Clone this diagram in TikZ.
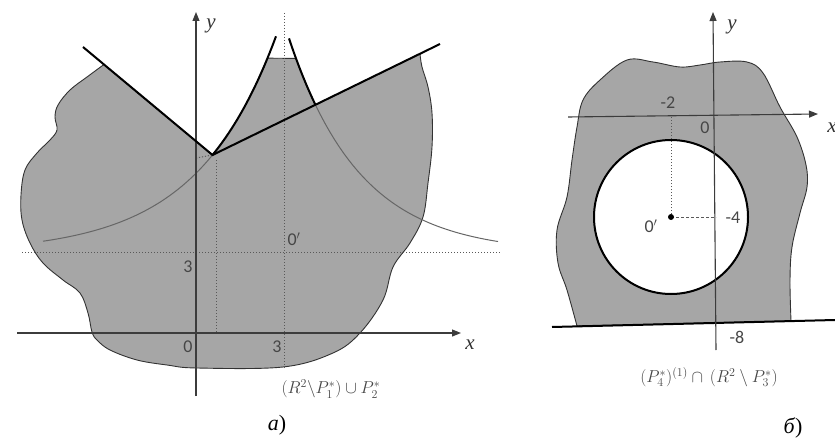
\documentclass[tikz,border=0pt]{standalone}
\usepackage{fontspec}
\setmainfont{Liberation Serif}
\newfontfamily\numfont{Carlito}
\usetikzlibrary{arrows.meta,calc}
\definecolor{fillgray}{RGB}{166,166,166}
\definecolor{axisgray}{RGB}{60,60,60}
\definecolor{textgray}{RGB}{70,70,70}
\definecolor{edgegray}{RGB}{50,50,50}
\begin{document}
\begin{tikzpicture}[x=1pt,y=-1pt,
  axis/.style={draw=axisgray, line width=1.1pt, -{Triangle[length=9pt,width=7pt]}},
  thickline/.style={draw=black, line width=2pt},
  thincurve/.style={draw=black!60, line width=1pt},
  guide/.style={draw=black!65, line width=1pt, dash pattern=on 1.2pt off 1.8pt},
  dguide/.style={draw=black!65, line width=1pt, dash pattern=on 3pt off 2pt},
  blob/.style={fill=fillgray, draw=edgegray, line width=0.9pt},
  num/.style={font=\numfont\fontsize{18}{18}\selectfont, text=textgray, inner sep=0pt},
  axlabel/.style={font=\itshape\fontsize{21}{21}\selectfont, text=black!80, inner sep=0pt},
  formula/.style={font=\fontsize{18}{18}\selectfont, text=textgray, inner sep=0pt},
  panel/.style={font=\fontsize{22}{22}\selectfont, inner sep=0pt},
  samples=40
]
\useasboundingbox (0,0) rectangle (835,441);

% ---------------- left panel ----------------
\coordinate (V) at (212.5,155);
\coordinate (L1) at (83,47);
\coordinate (R1) at (440,44);
\coordinate (BL) at ($(L1)!0.162!(V)$);
\coordinate (BR) at ($(V)!0.912!(R1)$);

\filldraw[blob] (BL) -- (V)
  -- plot[domain=212.5:267.5] (\x,{253-235*exp(-0.0125*(282.5-\x))})
  -- plot[domain=296:315.5] (\x,{253-235*exp(-0.014*(\x-282.5))})
  -- (BR)
  -- plot[smooth, tension=0.6] coordinates {(BR) (422,67) (428,87) (432,113) (432,147) (428,183) (423,217) (410,243) (393,267) (383,300) (360,333) (333,353) (283,367) (197,368) (167,365) (137,360) (110,350) (97,340) (92,332) (88,313) (80,293) (63,280) (43,263) (30,243) (22,220) (21,195) (25,170) (37,153) (50,140) (57,130) (55,117) (58,105) (70,90) (87,77) (BL)}
  -- cycle;

% guides
\draw[guide] (284,13) -- (284,368);
\draw[guide] (22,252) -- (500,252);
\draw[guide] (216,160) -- (216,333);
\draw[guide] (196,158) -- (V);

% thin curves
\draw[thincurve] plot[domain=43:212.5] (\x,{253-235*exp(-0.0125*(282.5-\x))});
\draw[thincurve] plot[domain=315.5:498] (\x,{253-235*exp(-0.014*(\x-282.5))});

% axes
\coordinate (xa0) at (17,333);
\coordinate (xa1) at (461,333);
\coordinate (ya0) at (196,396);
\coordinate (ya1) at (196,12);
\draw[axis] (xa0) -- (xa1);
\draw[axis] (ya0) -- (ya1);

% thick lines and cusp
\draw[thickline] (L1) -- (V) -- (R1);
\draw[thickline] plot[domain=212.5:276] (\x,{253-235*exp(-0.0125*(282.5-\x))});
\draw[thickline] plot[domain=289:315.5] (\x,{253-235*exp(-0.014*(\x-282.5))});

% labels
\node[axlabel] (ly) at (211,26) {y};
\node[axlabel] (lx) at (470,345) {x};
\node[num] (l0) at (188,347) {0};
\node[num] (l3x) at (277,347) {3};
\node[num] (l3y) at (188,267) {3};
\node[num] (lo) at (294,239) {0$'$};
\node[formula] (fa) at (331,389) {$(R^2\backslash P_1^{*})\cup P_2^{*}$};
\node[panel] (pa) at (277,425) {\textit{а})};

% ---------------- right panel ----------------
\coordinate (C) at (671,217);
\filldraw[blob, even odd rule] plot[smooth, tension=0.6] coordinates {(577,326) (567,290) (558,263) (557,230) (567,197) (572,160) (577,127) (583,100) (600,80) (627,60) (653,62) (680,67) (700,65) (720,62) (747,62) (763,73) (780,107) (797,137) (806,165) (807,187) (800,213) (792,247) (790,280) (791,321)} -- cycle
  (C) circle[radius=77];

\draw[thickline] (C) circle[radius=77];
\draw[guide] (C) -- (671,117);
\draw[dguide] (C) -- (716,217);
\fill[black] (C) circle[radius=3];

\coordinate (bx0) at (552,327);
\coordinate (bx1) at (835,320);
\draw[thickline] (bx0) -- (bx1);

\coordinate (rx0) at (568,117);
\coordinate (rx1) at (818,114);
\coordinate (ry0) at (716,350);
\coordinate (ry1) at (713,12);
\draw[axis] (rx0) -- (rx1);
\draw[axis] (ry0) -- (ry1);

\node[axlabel] (rly) at (732,27) {y};
\node[axlabel] (rlx) at (832,128) {x};
\node[num] (rm2) at (668,103) {-2};
\node[num] (r0) at (705,128) {0};
\node[num] (rm4) at (733,218) {-4};
\node[num] (rm8) at (737,337) {-8};
\node[num] (ro) at (651,226) {0$'$};
\node[formula] (fb) at (709,377) {$(P_4^{*})^{(1)}\cap\,(R^2\setminus P_3^{*})$};
\node[panel] (pb) at (793,428) {\textit{б})};
\end{tikzpicture}
\end{document}
